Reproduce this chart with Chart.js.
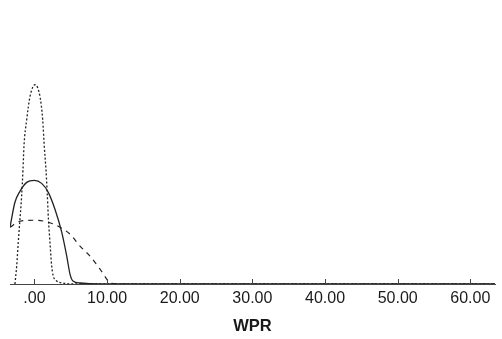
<!DOCTYPE html>
<html><head><meta charset="utf-8">
<script src="https://cdn.jsdelivr.net/npm/chart.js@4/dist/chart.umd.min.js"></script>
<style>html,body{margin:0;padding:0;background:#fff}#wrap{width:502px;height:339px}</style>
</head><body><div id="wrap"><canvas id="c" width="502" height="339"></canvas></div>
<script>
// Density curves (x = WPR, y = density)
const xDotted = [-2.69, -2.45, -2.23, -2.00, -1.77, -1.58, -1.45, -1.07, -0.62, 0.07, 0.76, 1.13, 1.35, 1.58, 1.75, 1.92, 2.13, 2.37, 2.59, 3.06, 3.93, 6.0, 20, 40, 63.4];
const yDotted = [0.000, 0.018, 0.042, 0.065, 0.088, 0.115, 0.138, 0.165, 0.188, 0.200, 0.188, 0.165, 0.138, 0.115, 0.092, 0.065, 0.042, 0.018, 0.008, 0.003, 0.001, 0.000, 0.000, 0.000, 0.000];
const xSolid = [-3.37, -2.69, -2.00, -1.07, -0.03, 0.99, 1.90, 2.82, 3.75, 4.44, 4.89, 5.30, 6.27, 9.0, 20, 40, 63.4];
const ySolid = [0.057, 0.082, 0.093, 0.102, 0.104, 0.101, 0.092, 0.075, 0.052, 0.028, 0.010, 0.003, 0.001, 0.000, 0.000, 0.000, 0.000];
const xDashed = [-3.37, -2.0, 0.07, 1.90, 3.51, 4.89, 6.27, 7.64, 9.02, 9.94, 10.4, 12.0, 20, 40, 63.4];
const yDashed = [0.057, 0.063, 0.064, 0.062, 0.057, 0.050, 0.038, 0.028, 0.015, 0.005, 0.001, 0.000, 0.000, 0.000, 0.000];
const xTicks = [0, 10, 20, 30, 40, 50, 60];
const xTitle = "WPR";

const pts = (xs, ys) => xs.map((x, i) => ({x, y: ys[i]}));
const lineCol = '#222';

const innerTicks = {
  id: 'innerTicks',
  afterDraw(chart) {
    const s = chart.scales.x, ctx = chart.ctx, y0 = chart.chartArea.bottom;
    ctx.save();
    ctx.strokeStyle = '#444'; ctx.lineWidth = 1;
    xTicks.forEach(v => {
      const px = Math.round(s.getPixelForValue(v)) + 0.5;
      ctx.beginPath(); ctx.moveTo(px, y0); ctx.lineTo(px, y0 - 5); ctx.stroke();
    });
    ctx.restore();
  }
};

new Chart(document.getElementById('c'), {
  type: 'line',
  data: {
    datasets: [
      {data: pts(xDotted, yDotted), borderColor: lineCol, borderWidth: 1.3, borderDash: [2, 2], pointRadius: 0, tension: 0.4, cubicInterpolationMode: 'monotone', fill: false},
      {data: pts(xSolid, ySolid), borderColor: lineCol, borderWidth: 1.3, pointRadius: 0, tension: 0.4, cubicInterpolationMode: 'monotone', fill: false},
      {data: pts(xDashed, yDashed), borderColor: lineCol, borderWidth: 1.2, borderDash: [5, 5], pointRadius: 0, tension: 0.4, cubicInterpolationMode: 'monotone', fill: false}
    ]
  },
  options: {
    responsive: false, animation: false,
    layout: {padding: {left: 10, right: 7, top: 10, bottom: 3}},
    plugins: {legend: {display: false}, tooltip: {enabled: false}},
    scales: {
      x: {
        type: 'linear', min: -3.37, max: 63.4,
        afterBuildTicks: (s) => { s.ticks = xTicks.map(v => ({value: v})); },
        grid: {display: false, drawTicks: false},
        border: {display: true, color: '#444', width: 1},
        ticks: {
          padding: 5, color: '#1a1a1a', maxRotation: 0, autoSkip: false,
          font: {family: 'Liberation Sans, Arial, sans-serif', size: 16},
          callback: (v) => v === 0 ? '.00' : Number(v).toFixed(2)
        },
        title: {display: true, text: xTitle, color: '#1a1a1a', padding: {top: 3, bottom: 0},
          font: {family: 'Liberation Sans, Arial, sans-serif', size: 16.5, weight: 'bold'}}
      },
      y: {display: false, min: 0, max: 0.275}
    }
  },
  plugins: [innerTicks]
});
</script></body></html>
